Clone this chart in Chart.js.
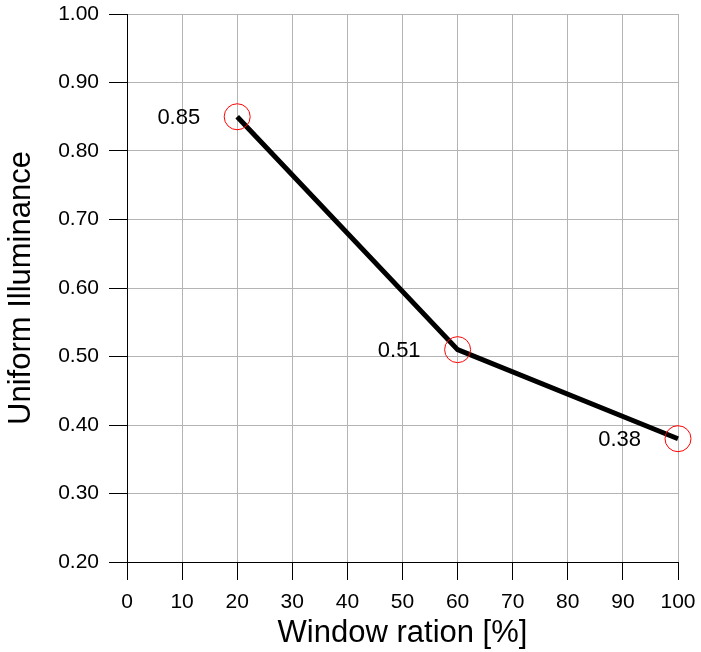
<!DOCTYPE html>
<html>
<head>
<meta charset="utf-8">
<script src="https://cdn.jsdelivr.net/npm/chart.js@4/dist/chart.umd.min.js"></script>
<style>
  html, body { margin: 0; padding: 0; background: #fff; }
  #wrap { width: 701px; height: 652px; }
</style>
</head>
<body>
<div id="wrap"><canvas id="c" width="701" height="652"></canvas></div>
<script>
const windowRatio = [20, 60, 100];
const uniformIlluminance = [0.85, 0.51, 0.38];
const valueLabels = ['0.85', '0.51', '0.38'];
const xTitle = 'Window ration [%]';
const yTitle = 'Uniform Illuminance';

const FONT = '"Liberation Sans", Arial, sans-serif';

const labelPlugin = {
  id: 'valueLabels',
  afterDatasetsDraw(chart) {
    const ctx = chart.ctx;
    const meta = chart.getDatasetMeta(0);
    ctx.save();
    ctx.font = '22px ' + FONT;
    ctx.fillStyle = '#000';
    ctx.textAlign = 'right';
    ctx.textBaseline = 'middle';
    meta.data.forEach((pt, i) => {
      ctx.fillText(valueLabels[i], pt.x - 37, pt.y + 1);
    });
    ctx.restore();
  }
};

new Chart(document.getElementById('c'), {
  type: 'line',
  data: {
    datasets: [{
      data: windowRatio.map((x, i) => ({ x: x, y: uniformIlluminance[i] })),
      borderColor: '#000',
      borderWidth: 5,
      pointRadius: 13,
      pointHoverRadius: 13,
      pointBorderWidth: 1,
      pointBorderColor: '#ff0000',
      pointBackgroundColor: 'rgba(0,0,0,0)',
      tension: 0,
      clip: false
    }]
  },
  options: {
    responsive: false,
    animation: false,
    events: [],
    layout: { padding: { top: 13, right: 23, left: 0, bottom: 0 } },
    plugins: { legend: { display: false }, tooltip: { enabled: false } },
    scales: {
      x: {
        type: 'linear',
        min: 0, max: 100,
        afterFit(s) { s.height = 90; s.paddingLeft = 0; s.paddingRight = 0; },
        ticks: {
          stepSize: 10,
          color: '#000',
          padding: 10,
          maxRotation: 0,
          font: { family: FONT, size: 21 }
        },
        grid: { color: '#b4b4b4', tickColor: '#000', tickLength: 18, lineWidth: 1 },
        border: { display: true, color: '#000', width: 1 },
        title: {
          display: true,
          text: xTitle,
          color: '#000',
          font: { family: FONT, size: 31 },
          padding: { top: 0, bottom: 0 }
        }
      },
      y: {
        type: 'linear',
        min: 0.2, max: 1.0,
        afterFit(s) { s.width = 127; s.paddingTop = 0; s.paddingBottom = 0; },
        ticks: {
          stepSize: 0.1,
          color: '#000',
          padding: 10,
          font: { family: FONT, size: 21 },
          callback: v => Number(v).toFixed(2)
        },
        grid: { color: '#b4b4b4', tickColor: '#000', tickLength: 18, lineWidth: 1 },
        border: { display: true, color: '#000', width: 1 },
        title: {
          display: true,
          text: yTitle,
          color: '#000',
          font: { family: FONT, size: 31 },
          padding: { top: 3, bottom: 0 }
        }
      }
    }
  },
  plugins: [labelPlugin]
});
</script>
</body>
</html>
